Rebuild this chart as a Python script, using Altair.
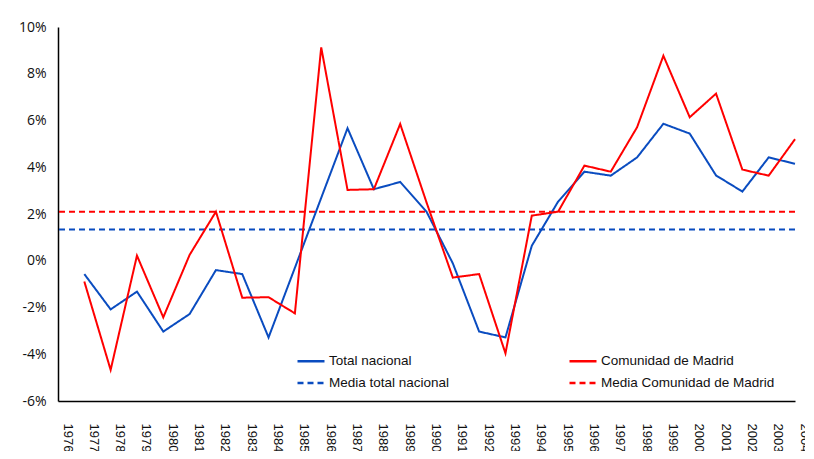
import altair as alt
import pandas as pd

# ---- data ----
anios = list(range(1977, 2005))
total_nacional = [-0.57, -2.08, -1.32, -3.03, -2.28, -0.40, -0.57, -3.28, -0.30, 2.69,
                  5.67, 3.06, 3.37, 2.10, -0.11, -3.03, -3.28, 0.64, 2.53, 3.81,
                  3.64, 4.42, 5.86, 5.44, 3.65, 2.96, 4.42, 4.15]
comunidad_madrid = [-0.89, -4.67, 0.22, -2.42, 0.25, 2.10, -1.58, -1.56, -2.25, 9.13,
                    3.03, 3.06, 5.85, 2.50, -0.72, -0.57, -3.96, 1.93, 2.10, 4.07,
                    3.81, 5.71, 8.77, 6.14, 7.15, 3.90, 3.64, 5.20]
media_total_nacional = 1.34
media_comunidad_madrid = 2.10

etiquetas_x = list(range(1976, 2005))
ticks_y = [-6, -4, -2, 0, 2, 4, 6, 8, 10]

# order chosen so the 2-column legend reads row by row as in the reference
series = ["Total nacional", "Media total nacional", "Comunidad de Madrid", "Media Comunidad de Madrid"]
colores = ["#0A4CC0", "#0A4CC0", "#FF0000", "#FF0000"]
trazos = [[1, 0], [6, 4], [1, 0], [6, 4]]

# ---- tables ----
lineas = pd.concat([
    pd.DataFrame({"anio": anios, "valor": total_nacional, "serie": "Total nacional"}),
    pd.DataFrame({"anio": anios, "valor": comunidad_madrid, "serie": "Comunidad de Madrid"}),
])
medias = pd.DataFrame({"valor": [media_total_nacional, media_comunidad_madrid],
                       "serie": ["Media total nacional", "Media Comunidad de Madrid"]})

leyenda = dict(title=None, orient="none", legendX=238, legendY=319,
               columns=2, symbolType="stroke", symbolSize=729,
               symbolStrokeWidth=2.5, labelFont="Liberation Sans",
               labelFontSize=13.5, labelColor="#111", labelOffset=3,
               columnPadding=114, rowPadding=-6, labelLimit=300)

color = alt.Color("serie:N", scale=alt.Scale(domain=series, range=colores),
                  sort=series, legend=alt.Legend(**leyenda))
dash = alt.StrokeDash("serie:N", scale=alt.Scale(domain=series, range=trazos),
                      sort=series, legend=alt.Legend(**leyenda))

y = alt.Y("valor:Q", scale=alt.Scale(domain=[-6, 10], nice=False),
          axis=alt.Axis(values=ticks_y, labelExpr="datum.value + '%'", title=None,
                        grid=False, ticks=False, domainColor="black", domainWidth=1.5,
                        labelFont="Open Sans", labelFontSize=14, labelColor="#111",
                        labelPadding=12))
x = alt.X("anio:Q", scale=alt.Scale(domain=[1976, 2004], nice=False, zero=False),
          axis=alt.Axis(values=etiquetas_x, format="d", labelAngle=90, labelOffset=9,
                        labelPadding=22, ticks=False, grid=False, domainColor="black",
                        domainWidth=1.5, title=None, labelFontSize=13, labelOverlap=False,
                        labelFlush=False, labelFont="Liberation Sans", labelColor="#111"))

reglas = alt.Chart(medias).mark_rule(strokeWidth=2, strokeDash=[8, 5]).encode(
    y=y, color=color, strokeDash=dash)
curvas = alt.Chart(lineas).mark_line(strokeWidth=2).encode(
    x=x, y=y, color=color, strokeDash=dash, order=alt.Order("anio:Q"))

chart = alt.layer(reglas, curvas).properties(
    width=737, height=374,
    padding={"left": 50, "top": 19, "right": 10, "bottom": 50},
    autosize="none",
    background="white",
).configure_view(stroke=None)

chart.save("out.html", embed_options={"renderer": "svg", "actions": False})
